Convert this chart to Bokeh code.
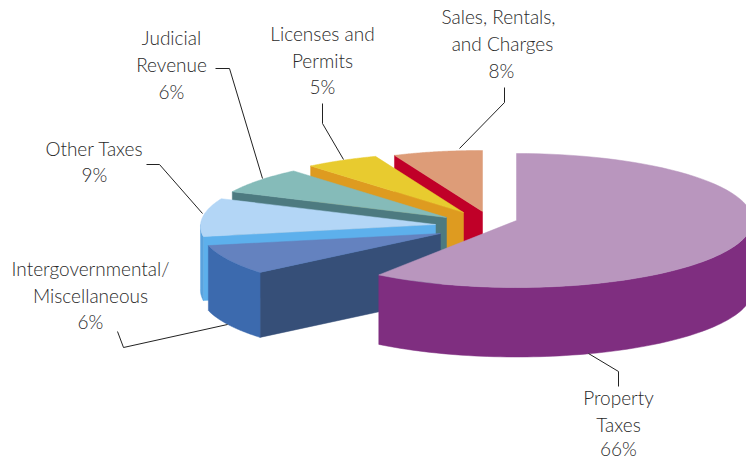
from bokeh.plotting import figure
from bokeh.models import Range1d
from bokeh.core.properties import value
from bokeh.embed import file_html
from bokeh.resources import INLINE
import numpy as np

# ---- data ----
categories = ["Property Taxes", "Intergovernmental/Miscellaneous", "Other Taxes",
              "Judicial Revenue", "Licenses and Permits", "Sales, Rentals, and Charges"]
percents = [66, 6, 9, 6, 5, 8]

# ---- drawing of the perspective pie ----
start_nudge = [0, -4.8, 0.4, 1.4, 3.8, 4.8]
end_nudge = [-21.9, 0.4, 1.4, 3.8, 4.8, 0]
apex_x = [516, 440, 435, 446, 463, 482]
apex_y = [220, 233, 224, 217, 212, 211]
r_start = [1.0, 0.96, 1.0, 0.986, 0.95, 0.917]
r_end = [1.0, 1.0, 0.986, 0.95, 0.917, 0.91]
depths = [69.5, 65, 64, 65, 65, 65]
RX, RY = 236, 67
top_col = ["#B996BE", "#6482BF", "#B3D6F6", "#85BBB9", "#E8CB2F", "#DD9C78"]
edge_col = ["#7F2E80", "#364F78", "#5DB0EC", "#4D7A80", "#DE9B20", "#C00028"]
rim_col = ["#7F2E80", "#3C6AAE", "#5BA3DE", "#4D7A80", "#DE9B20", "#C00028"]

label_lines = [
    ["Property", "Taxes", "66%"],
    ["Intergovernmental/", "Miscellaneous", "6%"],
    ["Other Taxes", "9%"],
    ["Judicial", "Revenue", "6%"],
    ["Licenses and", "Permits", "5%"],
    ["Sales, Rentals,", "and Charges", "8%"],
]
label_x = [[618, 618, 618], [90, 90, 90], [94, 94], [171, 171, 171], [322, 322, 322], [498, 502, 501]]
label_y = [[396.5, 423.5, 447.5], [267.5, 294.5, 320.5], [147.5, 173.5], [36.5, 63.5, 90.5],
           [32.5, 59.5, 85.5], [15.5, 42.5, 69.5]]
leader_x = [[588, 618, 618], [117, 123, 227], [146, 159, 202], [215, 229, 262], [322, 322, 343], [459, 504, 504]]
leader_y = [[353, 371, 386], [331, 347, 324], [164, 164, 213], [68, 68, 178], [103, 123, 159], [148, 102, 87]]

W, H = 746, 459
p = figure(width=W, height=H, output_backend="svg", toolbar_location=None,
           x_range=Range1d(0, W), y_range=Range1d(H, 0),
           min_border=0)
p.axis.visible = False
p.grid.visible = False
p.outline_line_color = None
p.background_fill_color = "white"
p.border_fill_color = "white"


def arc(i, a0, a1, a_s, a_e):
    th = np.linspace(a0, a1, 80)
    frac = (th - a_s) / (a_e - a_s)
    r = r_start[i] + (r_end[i] - r_start[i]) * frac
    rad = np.radians(th)
    return apex_x[i] + r * RX * np.sin(rad), apex_y[i] - r * RY * np.cos(rad)


cum = np.concatenate([[0], np.cumsum(percents)]) * 3.6
# painter's order: from the back slice to the front slice
for i in range(len(percents) - 1, -1, -1):
    a_s = cum[i] + start_nudge[i]
    a_e = cum[i + 1] + end_nudge[i]
    d = depths[i]
    # cut face on the leading edge: visible for every slice but the first
    if i > 0:
        xs, ys = arc(i, a_s, a_s, a_s, a_e + 1e-6)
        p.patch([apex_x[i], xs[0], xs[0], apex_x[i]],
                [apex_y[i], ys[0], ys[0] + d, apex_y[i] + d],
                fill_color=edge_col[i], line_color=edge_col[i], line_width=0.5)
    # rim: only the part of the outer wall that faces the viewer
    lo, hi = max(a_s, 90), min(a_e, 270)
    if hi > lo:
        xs, ys = arc(i, lo, hi, a_s, a_e)
        p.patch(np.concatenate([xs, xs[::-1]]), np.concatenate([ys, ys[::-1] + d]),
                fill_color=rim_col[i], line_color=rim_col[i], line_width=0.5)
    # top face
    xs, ys = arc(i, a_s, a_e, a_s, a_e)
    p.patch(np.concatenate([[apex_x[i]], xs]), np.concatenate([[apex_y[i]], ys]),
            fill_color=top_col[i], line_color=top_col[i], line_width=0.5)

for lx, ly in zip(leader_x, leader_y):
    p.line(lx, ly, line_color="#222222", line_width=1)

for lines, xs, ys in zip(label_lines, label_x, label_y):
    p.text(xs, ys, text=lines, text_align="center", text_baseline="middle",
           text_font=value("Lato Light"), text_font_size="19px", text_color="#2a2a2a")

open("out.html", "w").write(file_html(p, INLINE))
